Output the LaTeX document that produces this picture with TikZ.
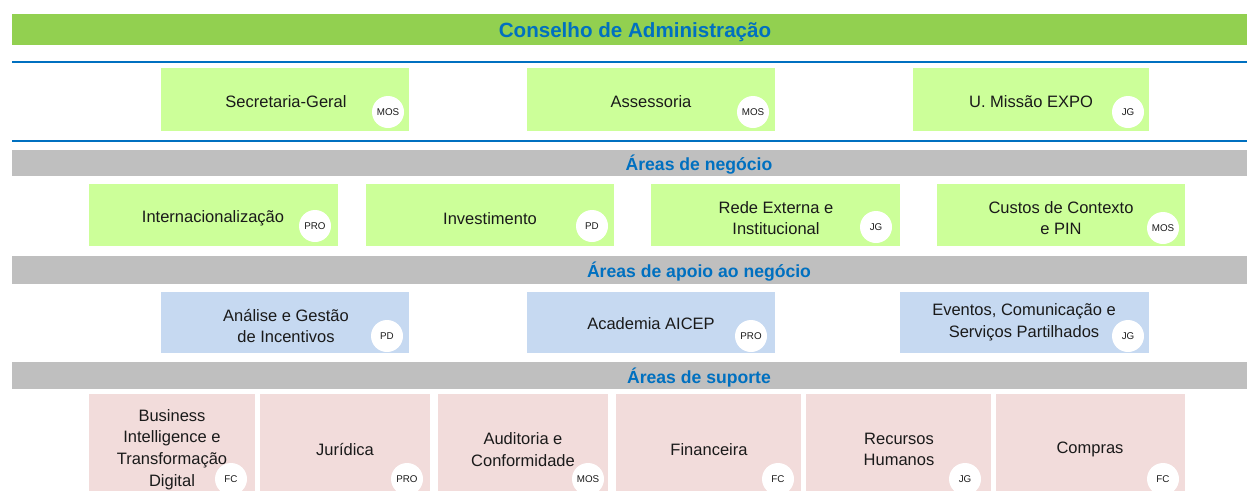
\documentclass[tikz,border=0pt]{standalone}
\usepackage{fontspec}
\setmainfont{Liberation Sans}
\definecolor{hdrgreen}{HTML}{92D050}
\definecolor{boxgreen}{HTML}{CCFF99}
\definecolor{boxblue}{HTML}{C6D9F1}
\definecolor{boxpink}{HTML}{F2DCDB}
\definecolor{bargray}{HTML}{BFBFBF}
\definecolor{titleblue}{HTML}{0070C0}
\definecolor{ink}{HTML}{1A1A1A}
\tikzset{
  cell/.style={inner sep=0pt},
  gcell/.style={cell, fill=boxgreen},
  bcell/.style={cell, fill=boxblue},
  pcell/.style={cell, fill=boxpink},
  celltext/.style={inner sep=0pt, align=center, text=ink, font=\fontsize{16.5}{21.7}\selectfont},
  badge/.style={circle, fill=white, minimum size=32pt, inner sep=0pt, text=ink, font=\fontsize{9.8}{10}\selectfont},
  bartitle/.style={text=titleblue, font=\bfseries\fontsize{17.6}{20}\selectfont, inner sep=0pt},
  bluerule/.style={draw=titleblue, line width=2pt}
}
\begin{document}
\begin{tikzpicture}[x=1pt,y=-1pt]
\useasboundingbox (0,0) rectangle (1247,491);
\clip (0,0) rectangle (1247,491);
% header
\fill[hdrgreen] (12,14) rectangle (1247,45);
\node[text=titleblue, font=\bfseries\fontsize{20.6}{22}\selectfont, inner sep=0pt] (cda) at (635,32.5) {Conselho de Administração};
\coordinate (l1a) at (12,62); \coordinate (l1b) at (1247,62);
\coordinate (l2a) at (12,141); \coordinate (l2b) at (1247,141);
\draw[bluerule] (l1a) -- (l1b);
\draw[bluerule] (l2a) -- (l2b);
% row 1
\node[gcell, minimum width=248pt, minimum height=63pt] (sg) at (285,99.5) {};
\node[gcell, minimum width=248pt, minimum height=63pt] (as) at (651,99.5) {};
\node[gcell, minimum width=236pt, minimum height=63pt] (ue) at (1031,99.5) {};
\node[celltext] (sgt) at (286,101.5) {Secretaria-Geral};
\node[celltext] (ast) at (651,101.5) {Assessoria};
\node[celltext] (uet) at (1031,101.5) {U. Missão EXPO};
\node[badge] (sgb) at (388,112) {MOS};
\node[badge] (asb) at (753,112) {MOS};
\node[badge] (ueb) at (1128,112) {JG};
% bar 1
\fill[bargray] (12,150) rectangle (1247,176);
\node[bartitle] (an) at (699,164.5) {Áreas de negócio};
% row 2
\node[gcell, minimum width=249pt, minimum height=62pt] (in) at (213.5,215) {};
\node[gcell, minimum width=248pt, minimum height=62pt] (iv) at (490,215) {};
\node[gcell, minimum width=249pt, minimum height=62pt] (re) at (775.5,215) {};
\node[gcell, minimum width=248pt, minimum height=62pt] (cc) at (1061,215) {};
\node[celltext] (int) at (213,218.5) {Internacionalização};
\node[celltext] (ivt) at (490,218.5) {Investimento};
\node[celltext] (ret) at (776,218) {Rede Externa e\\Institucional};
\node[celltext] (cct) at (1061,218) {Custos de Contexto\\e PIN};
\node[badge] (inb) at (315,226) {PRO};
\node[badge] (ivb) at (592,226) {PD};
\node[badge] (reb) at (876,227) {JG};
\node[badge] (ccb) at (1163,228) {MOS};
% bar 2
\fill[bargray] (12,256) rectangle (1247,284);
\node[bartitle] (aa) at (699,271.5) {Áreas de apoio ao negócio};
% row 3
\node[bcell, minimum width=248pt, minimum height=61pt] (ag) at (285,322.5) {};
\node[bcell, minimum width=248pt, minimum height=61pt] (ac) at (651,322.5) {};
\node[bcell, minimum width=249pt, minimum height=61pt] (ev) at (1024.5,322.5) {};
\node[celltext] (agt) at (286,326) {Análise e Gestão\\de Incentivos};
\node[celltext] (act) at (651,323.5) {Academia AICEP};
\node[celltext] (evt) at (1024,322.5) {Eventos, Comunicação e\\Serviços Partilhados};
\node[badge] (agb) at (387,336) {PD};
\node[badge] (acb) at (751,336) {PRO};
\node[badge] (evb) at (1128,336) {JG};
% bar 3
\fill[bargray] (12,362) rectangle (1247,389);
\node[bartitle] (as2) at (699,377.5) {Áreas de suporte};
% row 4
\node[pcell, minimum width=166pt, minimum height=97pt] (bi) at (172,442.5) {};
\node[pcell, minimum width=170pt, minimum height=97pt] (ju) at (345,442.5) {};
\node[pcell, minimum width=170pt, minimum height=97pt] (au) at (523,442.5) {};
\node[pcell, minimum width=185pt, minimum height=97pt] (fi) at (708.5,442.5) {};
\node[pcell, minimum width=185pt, minimum height=97pt] (rh) at (898.5,442.5) {};
\node[pcell, minimum width=189pt, minimum height=97pt] (co) at (1090.5,442.5) {};
\node[celltext] (bit) at (172,449.5) {Business\\Intelligence e\\Transformação\\Digital};
\node[celltext] (jut) at (345,449.5) {Jurídica};
\node[celltext] (aut) at (523,449.5) {Auditoria e\\Conformidade};
\node[celltext] (fit) at (709,449.5) {Financeira};
\node[celltext] (rht) at (899,449.5) {Recursos\\Humanos};
\node[celltext] (cot) at (1090,449.5) {Compras};
\node[badge] (bib) at (231,479) {FC};
\node[badge] (jub) at (407,479) {PRO};
\node[badge] (aub) at (588,479) {MOS};
\node[badge] (fib) at (778,479) {FC};
\node[badge] (rhb) at (965,479) {JG};
\node[badge] (cob) at (1163,479) {FC};
\end{tikzpicture}
\end{document}
